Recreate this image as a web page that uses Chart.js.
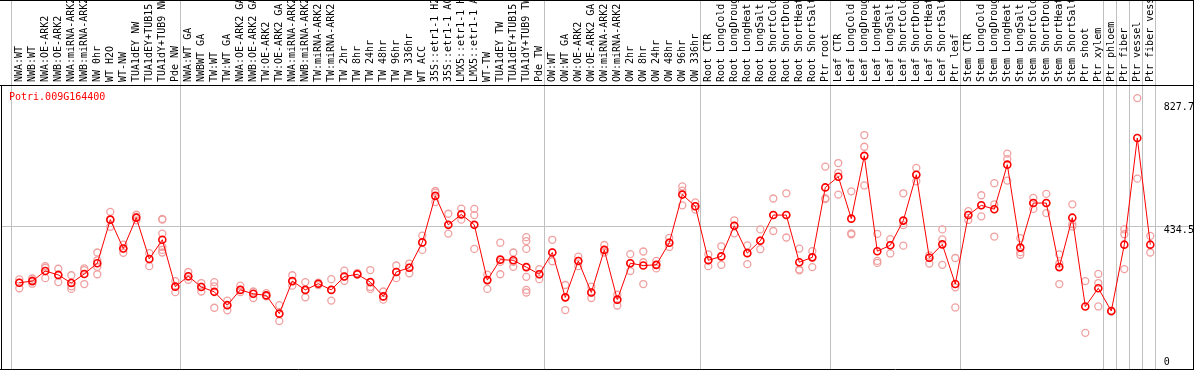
<!DOCTYPE html>
<html>
<head>
<meta charset="utf-8">
<title>Potri.009G164400</title>
<script src="https://cdn.jsdelivr.net/npm/chart.js@4"></script>
<style>
  body { margin: 0; background: #fff; }
  canvas { display: block; }
</style>
</head>
<body>
<canvas id="chart" width="1194" height="370"></canvas>
<script>
// Sample names (top axis)
const samples = [
  'NWA:WT', 'NWB:WT', 'NWA:OE-ARK2', 'NWB:OE-ARK2', 'NWA:miRNA-ARK2', 'NWB:miRNA-ARK2', 'NW 0hr', 'WT H2O', 'WT-NW',
  'TUA1dEY NW', 'TUA1dEY+TUB15 NW', 'TUA1dY+TUB9 NW', 'Pde NW',
  'NWA:WT GA', 'NWBWT GA', 'TW:WT', 'TW:WT GA', 'NWA:OE-ARK2 GA', 'NWB:OE-ARK2 GA', 'TW:OE-ARK2', 'TW:OE-ARK2 GA',
  'NWA:miRNA-ARK2', 'NWB:miRNA-ARK2', 'TW:miRNA-ARK2', 'TW:miRNA-ARK2', 'TW 2hr', 'TW 8hr', 'TW 24hr', 'TW 48hr',
  'TW 96hr', 'TW 336hr', 'WT ACC', '35S::etr1-1 H2O', '35S::etr1-1 ACC', 'LMX5::etr1-1 H2O', 'LMX5::etr1-1 ACC',
  'WT-TW', 'TUA1dEY TW', 'TUA1dEY+TUB15 TW', 'TUA1dY+TUB9 TW', 'Pde TW',
  'OW:WT', 'OW:WT GA', 'OW:OE-ARK2', 'OW:OE-ARK2 GA', 'OW:miRNA-ARK2', 'OW:miRNA-ARK2', 'OW 2hr', 'OW 8hr',
  'OW 24hr', 'OW 48hr', 'OW 96hr', 'OW 336hr',
  'Root CTR', 'Root LongCold', 'Root LongDrought', 'Root LongHeat', 'Root LongSalt', 'Root ShortCold',
  'Root ShortDrought', 'Root ShortHeat', 'Root ShortSalt', 'Ptr root',
  'Leaf CTR', 'Leaf LongCold', 'Leaf LongDrought', 'Leaf LongHeat', 'Leaf LongSalt', 'Leaf ShortCold',
  'Leaf ShortDrought', 'Leaf ShortHeat', 'Leaf ShortSalt', 'Ptr leaf',
  'Stem CTR', 'Stem LongCold', 'Stem LongDrought', 'Stem LongHeat', 'Stem LongSalt', 'Stem ShortCold',
  'Stem ShortDrought', 'Stem ShortHeat', 'Stem ShortSalt', 'Ptr shoot', 'Ptr xylem',
  'Ptr phloem', 'Ptr fiber', 'Ptr vessel', 'Ptr fiber vessel'
];

// Mean expression per sample (red line)
const means = [
  260, 265, 296, 284, 259, 287, 320, 454, 365, 460,
  333, 392, 248, 280, 247, 232, 191, 238, 226, 221,
  165, 265, 238, 257, 238, 279, 286, 262, 218, 293,
  306, 384, 527, 438, 470, 438, 268, 331, 329, 308,
  286, 353, 215, 327, 230, 361, 208, 320, 313, 315,
  383, 531, 495, 329, 341, 435, 351, 389, 468, 468,
  323, 338, 553, 586, 457, 650, 357, 375, 451, 592,
  337, 378, 256, 468, 498, 486, 623, 368, 505, 505,
  308, 460, 187, 243, 173, 377, 705, 377
];

// Single replicates per sample (pink circles)
const replicates = [
  [270, 260, 243], [273, 267, 257], [311, 306, 274], [303, 283, 262], [283, 249, 241],
  [304, 299, 256], [353, 329, 309, 286], [478, 454, 432], [377, 365, 352], [469, 462, 452],
  [351, 333, 311], [456, 454, 411, 370, 361, 353], [265, 248, 231], [293, 279, 269], [259, 248, 233],
  [262, 249, 183], [205, 191, 175], [251, 238, 231], [233, 226, 213], [228, 221, 218],
  [191, 165, 142], [283, 265, 251], [262, 238, 215], [260, 257, 253], [271, 238, 205],
  [297, 279, 266], [290, 286, 285], [299, 247, 241], [233, 218, 208], [313, 293, 274],
  [319, 306, 289], [405, 384, 361], [542, 537, 508], [472, 438, 411], [488, 470, 454],
  [487, 468, 364], [285, 268, 241], [383, 324, 286], [353, 324, 309], [400, 388, 364, 278, 238, 230],
  [302, 286, 271], [392, 353, 326], [253, 215, 176], [340, 327, 311], [248, 230, 213],
  [376, 361, 353], [223, 208, 190], [348, 320, 296], [356, 323, 256], [327, 315, 304],
  [398, 383, 370], [556, 543, 498], [507, 495, 485], [347, 329, 311], [372, 341, 315],
  [452, 435, 412], [375, 351, 317], [424, 389, 363], [519, 468, 419], [535, 468, 399],
  [365, 301, 298], [357, 338, 308], [617, 520, 517], [628, 598, 531], [541, 412, 409],
  [714, 678, 559], [410, 327, 321], [394, 375, 350], [535, 437, 374], [613, 592, 572],
  [344, 337, 319], [424, 393, 315], [336, 246, 184], [480, 468, 453], [529, 498, 464],
  [566, 501, 402], [657, 640, 574], [397, 354, 346], [521, 505, 487], [533, 505, 474],
  [347, 319, 256], [501, 440, 433], [265, 106], [287, 259, 187], [173, 171],
  [424, 409, 302], [827.7, 580], [404, 353]
];

// Grey separators come after these sample indices
const groupEnds = [12, 40, 52, 62, 72, 83, 84, 85, 86, 87];

// Labels on the right side, reference line
const yLabels = [827.7, 434.5, 0];
const refLine = 434.5;
const geneId = 'Potri.009G164400';

// value range of the plot box (0 sits just below the bottom edge)
const Y_MIN = 8.9;
const Y_MAX = 867.9;

const FONT = '"DejaVu Sans Mono", monospace';

const repPoints = [];
replicates.forEach((reps, i) => {
  reps.forEach(v => repPoints.push({ x: i, y: v }));
});

// grey lines, black frame, gene id and right labels
const frame = {
  id: 'frame',
  beforeDraw(chart) {
    const { ctx, scales: { x2, y } } = chart;
    ctx.save();
    ctx.fillStyle = '#fff';
    ctx.fillRect(0, 0, chart.width, chart.height);
    ctx.strokeStyle = '#c0c0c0';
    ctx.lineWidth = 1;
    ctx.beginPath();
    [-1].concat(groupEnds).forEach(k => {
      const px = Math.round(x2.getPixelForValue(k + 0.5) - 1.4) + 0.5;
      ctx.moveTo(px, 0);
      ctx.lineTo(px, chart.height);
    });
    const gy = Math.round(y.getPixelForValue(refLine)) + 0.5;
    ctx.moveTo(1, gy);
    ctx.lineTo(chart.width - 1, gy);
    ctx.stroke();
    ctx.restore();
  },
  afterDraw(chart) {
    const { ctx, chartArea, scales: { y } } = chart;
    const W = chart.width, H = chart.height;
    ctx.save();
    ctx.strokeStyle = '#000';
    ctx.lineWidth = 1;
    ctx.beginPath();
    ctx.moveTo(0, 0.5); ctx.lineTo(W, 0.5);
    ctx.moveTo(W - 0.5, 0); ctx.lineTo(W - 0.5, H);
    ctx.moveTo(0, chartArea.top + 0.5); ctx.lineTo(W, chartArea.top + 0.5);
    ctx.moveTo(1.5, chartArea.top); ctx.lineTo(1.5, H);
    ctx.moveTo(0, H - 0.5); ctx.lineTo(W, H - 0.5);
    ctx.stroke();

    ctx.font = '10px ' + FONT;
    ctx.textBaseline = 'middle';
    ctx.fillStyle = '#f00';
    ctx.fillText(geneId, 9, chartArea.top + 12);
    ctx.fillStyle = '#000';
    yLabels.forEach(v => {
      const py = Math.min(Math.max(y.getPixelForValue(v) + 4, chartArea.top + 22), H - 8);
      ctx.fillText(String(v), chartArea.right + 7, py);
    });
    ctx.restore();
  }
};

new Chart(document.getElementById('chart'), {
  type: 'line',
  data: {
    labels: samples,
    datasets: [
      {
        label: 'mean',
        data: means,
        xAxisID: 'x',
        borderColor: '#ff0000',
        borderWidth: 1,
        pointRadius: 3.5,
        pointBorderWidth: 1.6,
        pointBorderColor: '#ff0000',
        pointBackgroundColor: 'rgba(0,0,0,0)',
        tension: 0
      },
      {
        label: 'replicates',
        data: repPoints,
        xAxisID: 'x2',
        showLine: false,
        pointRadius: 3.5,
        pointBorderWidth: 1.3,
        pointBorderColor: '#f0a0a0',
        pointBackgroundColor: 'rgba(0,0,0,0)'
      }
    ]
  },
  options: {
    responsive: false,
    animation: false,
    devicePixelRatio: 1,
    layout: { padding: { left: 12.8, right: 37.2, top: 0, bottom: 1 } },
    plugins: {
      legend: { display: false },
      tooltip: { enabled: false }
    },
    scales: {
      x: {
        type: 'category',
        position: 'top',
        offset: true,
        grid: { display: false, drawTicks: false },
        border: { display: false },
        ticks: {
          autoSkip: false,
          minRotation: 90,
          maxRotation: 90,
          padding: 3,
          labelOffset: 12,
          color: '#000',
          font: { family: FONT, size: 10 }
        },
        afterFit(scale) { scale.height = 85; }
      },
      x2: { type: 'linear', display: false, min: -0.5, max: samples.length - 0.5 },
      y: { type: 'linear', display: false, min: Y_MIN, max: Y_MAX }
    }
  },
  plugins: [frame]
});
</script>
</body>
</html>
